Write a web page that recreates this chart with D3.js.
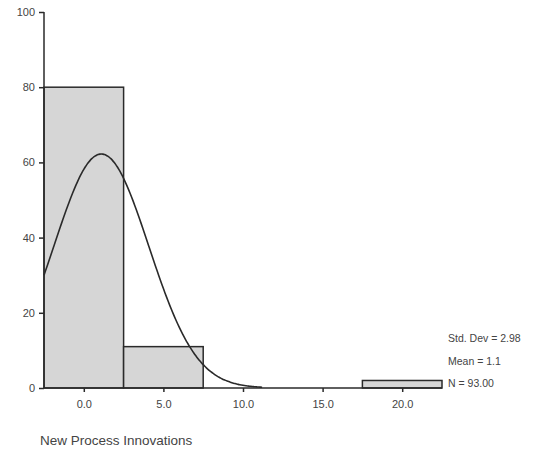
<!DOCTYPE html>
<html><head><meta charset="utf-8">
<script src="https://cdn.jsdelivr.net/npm/d3@7"></script>
<style>body{margin:0;background:#fff;} text{font-family:Arial,"Liberation Sans",sans-serif;fill:#444;}</style>
</head><body>
<svg id="c" width="549" height="455"></svg>
<script>
const binStarts = [-2.5, 2.5, 17.5];
const binEnds = [2.5, 7.5, 22.5];
const counts = [80, 11, 2];
const xTicks = [0, 5, 10, 15, 20];
const xTickLabels = ["0.0", "5.0", "10.0", "15.0", "20.0"];
const yTicks = [0, 20, 40, 60, 80, 100];
const stats = { sd: 2.98, mean: 1.1, n: 93 };
const statLabels = ["Std. Dev = 2.98", "Mean = 1.1", "N = 93.00"];
const binWidth = 5;
const curveRange = [-2.5, 11.2];
const xTitle = "New Process  Innovations";

const svg = d3.select("#c");
const x = d3.scaleLinear().domain([-2.5, 22.5]).range([44, 442]);
const y = d3.scaleLinear().domain([0, 100]).range([388, 12]);

// bars
svg.selectAll("rect.bar").data(counts).enter().append("rect")
  .attr("x", (d,i)=>x(binStarts[i]))
  .attr("width", (d,i)=>x(binEnds[i])-x(binStarts[i]))
  .attr("y", d=>y(d))
  .attr("height", d=>y(0)-y(d))
  .attr("fill", "#d6d6d6")
  .attr("stroke", "#2a2a2a")
  .attr("stroke-width", 1.5);

// normal curve
const pts = d3.range(curveRange[0], curveRange[1]+0.001, 0.1).map(v=>{
  const z = (v - stats.mean)/stats.sd;
  return [v, stats.n*binWidth/(stats.sd*Math.sqrt(2*Math.PI))*Math.exp(-0.5*z*z)];
});
svg.append("path").datum(pts)
  .attr("d", d3.line().x(d=>x(d[0])).y(d=>y(d[1])).curve(d3.curveBasis))
  .attr("fill","none").attr("stroke","#2a2a2a").attr("stroke-width",1.6);

// y axis
const ya = svg.append("g").attr("transform","translate(44,0)")
  .call(d3.axisLeft(y).tickValues(yTicks).tickSize(5).tickPadding(4).tickFormat(d3.format("d")));
ya.select(".domain").attr("stroke","#2a2a2a").attr("stroke-width",1.5).attr("d","M0,12V388");
ya.selectAll(".tick line").attr("stroke","#2a2a2a").attr("stroke-width",1.5);
ya.selectAll(".tick text").attr("font-size",11).attr("fill","#444").attr("font-family","Arial");

// x axis
const xa = svg.append("g").attr("transform","translate(0,388)")
  .call(d3.axisBottom(x).tickValues(xTicks).tickSize(4).tickPadding(8).tickFormat((d,i)=>xTickLabels[i]));
xa.select(".domain").attr("stroke","#2a2a2a").attr("stroke-width",1.5).attr("d","M44,0H442");
xa.selectAll(".tick line").attr("stroke","#2a2a2a").attr("stroke-width",1.5);
xa.selectAll(".tick text").attr("font-size",11).attr("fill","#444").attr("font-family","Arial");

// stats
svg.selectAll("text.stat").data(statLabels).enter().append("text")
  .attr("x", 448).attr("y",(d,i)=>342+i*22.5)
  .attr("font-size",10.5).text(d=>d);

// x title
svg.append("text").attr("x",40).attr("y",445).attr("font-size",13.5).attr("fill","#333").text(xTitle);
</script>
</body></html>
